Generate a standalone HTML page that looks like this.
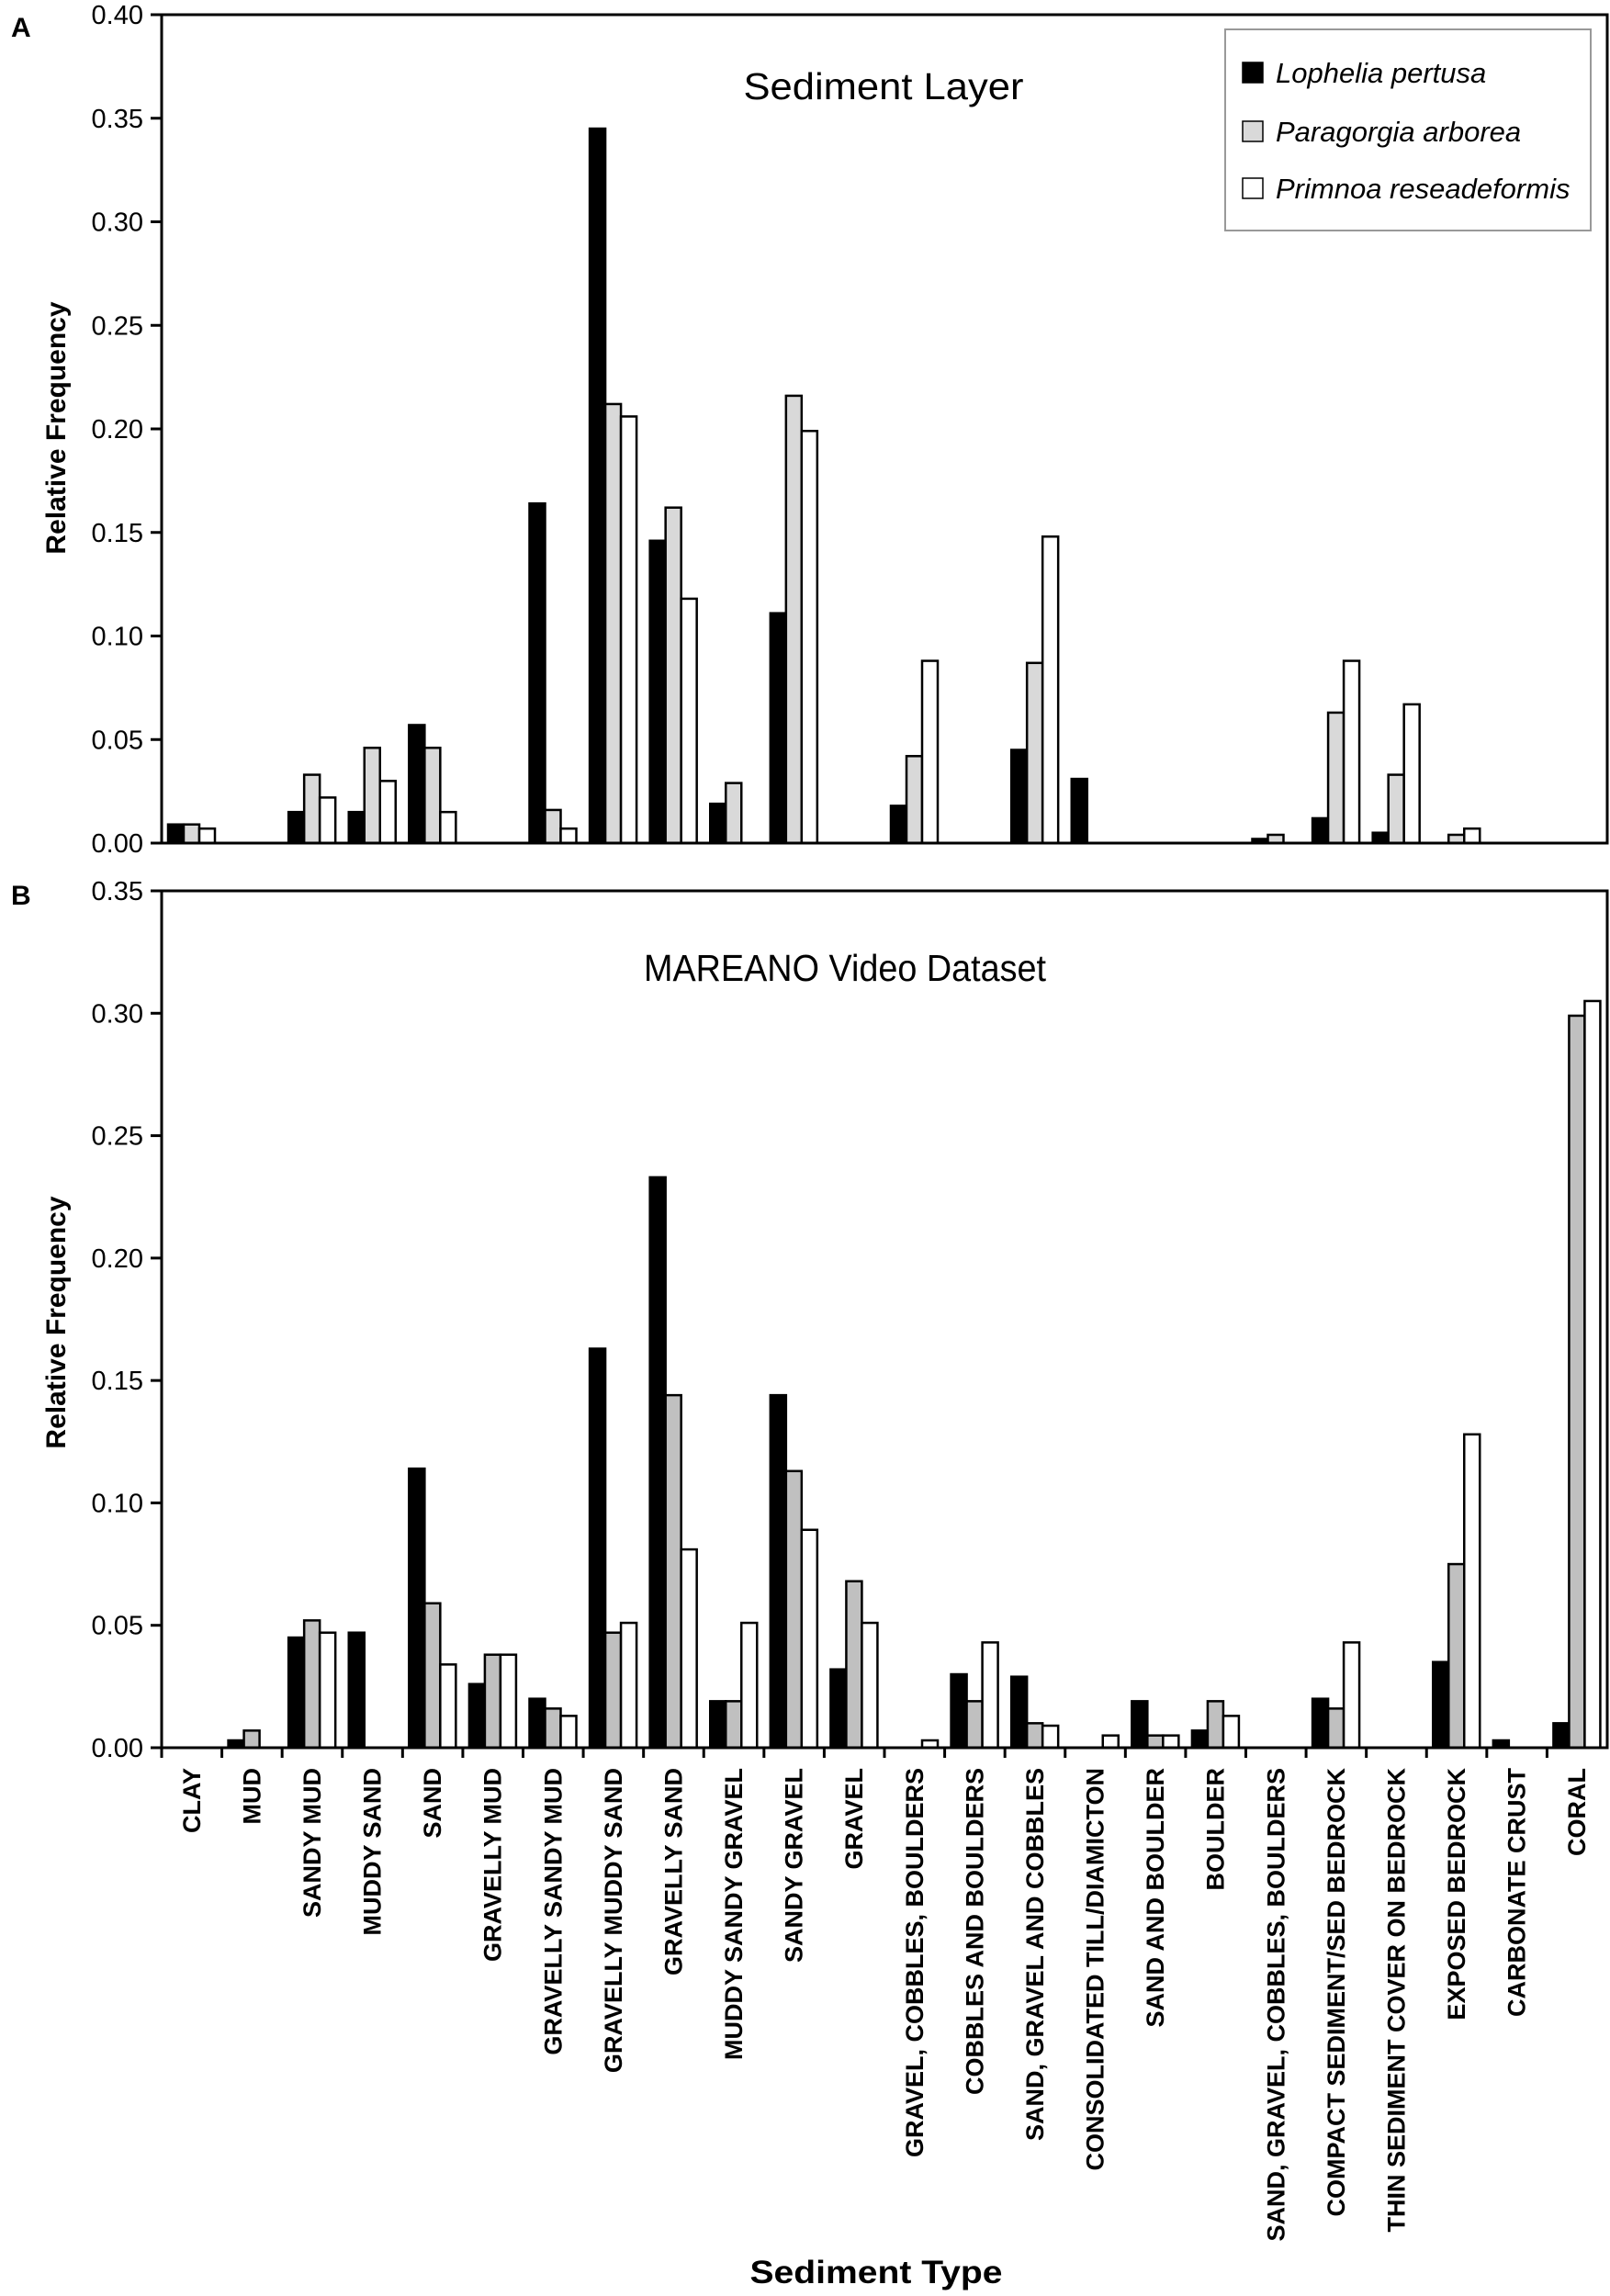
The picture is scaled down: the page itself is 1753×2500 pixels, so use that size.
<!DOCTYPE html>
<html><head><meta charset="utf-8">
<style>
html,body{margin:0;padding:0;background:#fff;}
svg{display:block;}
text{font-family:"Liberation Sans",sans-serif;}
</style></head>
<body>
<svg id="fig" width="1753" height="2500" viewBox="0 0 1753 2500" xmlns="http://www.w3.org/2000/svg">
<rect x="0" y="0" width="1753" height="2500" fill="#fff"/>
<text x="12" y="40" font-size="30" font-weight="bold">A</text>
<text x="12" y="985" font-size="30" font-weight="bold">B</text>
<text x="962" y="108" font-size="41" text-anchor="middle" textLength="305" lengthAdjust="spacingAndGlyphs">Sediment Layer</text>
<text x="920" y="1068" font-size="41" text-anchor="middle" textLength="438" lengthAdjust="spacingAndGlyphs">MAREANO Video Dataset</text>
<text transform="translate(71,466) rotate(-90)" font-size="30" font-weight="bold" text-anchor="middle">Relative Frequency</text>
<text transform="translate(71,1440) rotate(-90)" font-size="30" font-weight="bold" text-anchor="middle">Relative Frequency</text>
<text x="954" y="2486" font-size="35" font-weight="bold" text-anchor="middle" textLength="275" lengthAdjust="spacingAndGlyphs">Sediment  Type</text>
<g id="top"></g>
<g id="bottom"></g>
<g>
<rect x="1334" y="32" width="398" height="219" fill="#fff" stroke="#999" stroke-width="2"/>
<rect x="1353" y="68" width="22" height="22" fill="#000" stroke="#000" stroke-width="1.5"/>
<text x="1389" y="90" font-size="31" font-style="italic">Lophelia pertusa</text>
<rect x="1353" y="132" width="22" height="22" fill="#d9d9d9" stroke="#000" stroke-width="1.5"/>
<text x="1389" y="154" font-size="31" font-style="italic">Paragorgia arborea</text>
<rect x="1353" y="194" width="22" height="22" fill="#fff" stroke="#000" stroke-width="1.5"/>
<text x="1389" y="216" font-size="31" font-style="italic">Primnoa reseadeformis</text>
</g>
</svg>
<script>
const categories = ["CLAY","MUD","SANDY MUD","MUDDY SAND","SAND","GRAVELLY MUD","GRAVELLY SANDY MUD","GRAVELLY MUDDY SAND","GRAVELLY SAND","MUDDY SANDY GRAVEL","SANDY GRAVEL","GRAVEL","GRAVEL, COBBLES, BOULDERS","COBBLES AND BOULDERS","SAND, GRAVEL AND COBBLES","CONSOLIDATED TILL/DIAMICTON","SAND AND BOULDER","BOULDER","SAND, GRAVEL, COBBLES, BOULDERS","COMPACT SEDIMENT/SED BEDROCK","THIN SEDIMENT COVER ON BEDROCK","EXPOSED BEDROCK","CARBONATE CRUST","CORAL"];
const topLophelia   = [0.009,0,0.015,0.015,0.057,0,0.164,0.345,0.146,0.019,0.111,0,0.018,0,0.045,0.031,0,0,0.002,0.012,0.005,0,0,0];
const topParagorgia = [0.009,0,0.033,0.046,0.046,0,0.016,0.212,0.162,0.029,0.216,0,0.042,0,0.087,0,0,0,0.004,0.063,0.033,0.004,0,0];
const topPrimnoa    = [0.007,0,0.022,0.030,0.015,0,0.007,0.206,0.118,0,0.199,0,0.088,0,0.148,0,0,0,0,0.088,0.067,0.007,0,0];
const botLophelia   = [0,0.003,0.045,0.047,0.114,0.026,0.020,0.163,0.233,0.019,0.144,0.032,0,0.030,0.029,0,0.019,0.007,0,0.020,0,0.035,0.003,0.010];
const botParagorgia = [0,0.007,0.052,0,0.059,0.038,0.016,0.047,0.144,0.019,0.113,0.068,0,0.019,0.010,0,0.005,0.019,0,0.016,0,0.075,0,0.299];
const botPrimnoa    = [0,0,0.047,0,0.034,0.038,0.013,0.051,0.081,0.051,0.089,0.051,0.003,0.043,0.009,0.005,0.005,0.013,0,0.043,0,0.128,0,0.305];
const topTicks = ["0.00","0.05","0.10","0.15","0.20","0.25","0.30","0.35","0.40"];
const botTicks = ["0.00","0.05","0.10","0.15","0.20","0.25","0.30","0.35"];

const NS="http://www.w3.org/2000/svg";
const X0=176, X1=1750;
const catW=(X1-X0)/categories.length;
function xCat(i){return X0+i*catW;}
function mk(tag,attrs,parent){const e=document.createElementNS(NS,tag);for(const k in attrs)e.setAttribute(k,attrs[k]);parent.appendChild(e);return e;}

function drawPanel(g,yTop,yBot,yMax,ticks,series,gray,xTicks,prefix){
  const yS=v=>yBot-(v/yMax)*(yBot-yTop);
  const frame=mk('rect',{x:X0,y:yTop,width:X1-X0,height:yBot-yTop,fill:'none',stroke:'#000','stroke-width':3},g);
  
  
  ticks.forEach(t=>{
    const v=parseFloat(t), y=yS(v);
    const tk=mk('line',{x1:X0-12,x2:X0,y1:y,y2:y,stroke:'#000','stroke-width':3},g);
    
    
    const tl=mk('text',{x:X0-20,y:y+10,'font-size':29,'text-anchor':'end'},g);
    tl.textContent=t;
    
    
  });
  const fills=['#000',gray,'#fff'];
  const names=['lophelia','paragorgia','primnoa'];
  const bw=17;
  categories.forEach((c,i)=>{
    series.forEach((s,k)=>{
      const v=s[i]; if(!v) return;
      const x=xCat(i)+7+k*bw, y=yS(v);
      const r=mk('rect',{x:x,y:y,width:bw,height:yBot-y,fill:fills[k],stroke:'#000','stroke-width':2.5},g);
      
      
    });
    if(xTicks){
      const xt=mk('line',{x1:xCat(i),x2:xCat(i),y1:yBot,y2:yBot+11,stroke:'#000','stroke-width':3},g);
      
      
      const cx=xCat(i)+catW/2+9;
      const lb=mk('text',{transform:`translate(${cx},${yBot+22}) rotate(-90)`,'font-size':27,'font-weight':'bold','text-anchor':'end'},g);
      lb.textContent=c;
      
      
    }
  });
  const base=mk('line',{x1:X0-12,x2:X1,y1:yBot,y2:yBot,stroke:'#000','stroke-width':3},g);
  
  
}
const gTop=document.getElementById('top');


drawPanel(gTop,16,918,0.40,topTicks,[topLophelia,topParagorgia,topPrimnoa],'#d9d9d9',false,'top');
const gBot=document.getElementById('bottom');


drawPanel(gBot,970,1903,0.35,botTicks,[botLophelia,botParagorgia,botPrimnoa],'#c0c0c0',true,'bottom');
</script>
</body></html>
